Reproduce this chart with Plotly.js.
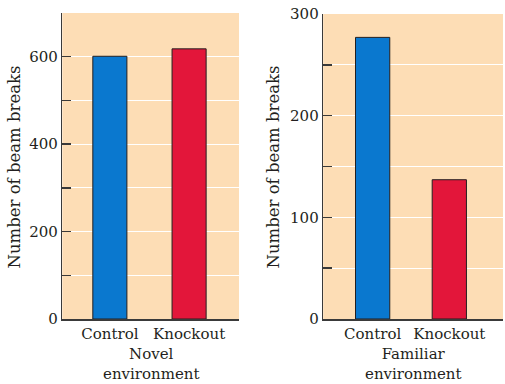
<!DOCTYPE html>
<html>
<head>
<meta charset="utf-8">
<script src="https://cdn.plot.ly/plotly-3.0.1.min.js"></script>
<style>html,body{margin:0;padding:0;background:#fff;}#chart{width:505px;height:384px;}</style>
</head>
<body>
<div id="chart"></div>
<script>
const categories = ["Control", "Knockout"];
const novelValues = [601, 618];
const familiarValues = [277, 137];
const barColors = ["#0A78CF", "#E3163A"];
const novelTicks = [0, 100, 200, 300, 400, 500, 600, 700];
const novelTickText = ["0", "", "200", "", "400", "", "600", ""];
const familiarTicks = [0, 50, 100, 150, 200, 250, 300];
const familiarTickText = ["0", "", "100", "", "200", "", "300"];
const yTitle = "Number of beam breaks";
const novelLabel = "Novel<br>environment";
const familiarLabel = "Familiar<br>environment";

const fontFam = "DejaVu Serif, Liberation Serif, serif";
const textColor = "#231f20";
const peach = "#FDDDB5";
const idx = categories.map((c, i) => i);

const traces = [
  {type: "bar", x: idx, y: novelValues, xaxis: "x", yaxis: "y", width: 0.43,
   marker: {color: barColors, line: {color: "#231f20", width: 1}}, hoverinfo: "none"},
  {type: "bar", x: idx, y: familiarValues, xaxis: "x2", yaxis: "y2", width: 0.447,
   marker: {color: barColors, line: {color: "#231f20", width: 1}}, hoverinfo: "none"}
];

const yCommon = {
  showline: true, linecolor: "#3a3a3a", linewidth: 1.5,
  ticks: "inside", ticklen: 9, tickwidth: 1.5, tickcolor: "#3a3a3a",
  showgrid: true, gridcolor: "#ffffff", gridwidth: 1.2,
  zeroline: false, tickmode: "array",
  tickfont: {family: fontFam, size: 15, color: textColor}
};
const xCommon = {
  showline: true, linecolor: "#3a3a3a", linewidth: 1.5,
  ticks: "", showgrid: false, zeroline: false, tickmode: "array",
  tickvals: idx, ticktext: categories,
  tickfont: {family: fontFam, size: 15, color: textColor}
};

const layout = {
  width: 505, height: 384,
  margin: {l: 0, r: 0, t: 13, b: 65},
  paper_bgcolor: "#ffffff",
  plot_bgcolor: peach,
  showlegend: false,
  bargap: 0,
  xaxis: Object.assign({}, xCommon, {domain: [0.1234, 0.4733], range: [-0.6, 1.63], anchor: "y"}),
  xaxis2: Object.assign({}, xCommon, {domain: [0.640, 0.996], range: [-0.645, 1.70], anchor: "y2"}),
  yaxis: Object.assign({}, yCommon, {domain: [0, 1], range: [0, 700], tickvals: novelTicks, ticktext: novelTickText, anchor: "x"}),
  yaxis2: Object.assign({}, yCommon, {domain: [0, 0.9967], range: [0, 300], tickvals: familiarTicks, ticktext: familiarTickText, anchor: "x2"}),
  shapes: [
    {type: "rect", xref: "x2 domain", yref: "paper", x0: 0, x1: 1, y0: 0.9967, y1: 1, fillcolor: "#ffffff", line: {width: 0}, layer: "above"}
  ],
  annotations: [
    {text: yTitle, xref: "paper", yref: "paper", x: 15/505, y: 0.495, textangle: -90, showarrow: false,
     xanchor: "center", yanchor: "middle", font: {family: fontFam, size: 16.5, color: textColor}},
    {text: yTitle, xref: "paper", yref: "paper", x: 274/505, y: 0.495, textangle: -90, showarrow: false,
     xanchor: "center", yanchor: "middle", font: {family: fontFam, size: 16.5, color: textColor}},
    {text: novelLabel, xref: "x domain", yref: "paper", x: 0.5, y: -0.077, showarrow: false,
     xanchor: "center", yanchor: "top", font: {family: fontFam, size: 15, color: textColor}},
    {text: familiarLabel, xref: "x2 domain", yref: "paper", x: 0.5, y: -0.077, showarrow: false,
     xanchor: "center", yanchor: "top", font: {family: fontFam, size: 15, color: textColor}}
  ]
};

Plotly.newPlot("chart", traces, layout, {displayModeBar: false, staticPlot: true});
</script>
</body>
</html>
